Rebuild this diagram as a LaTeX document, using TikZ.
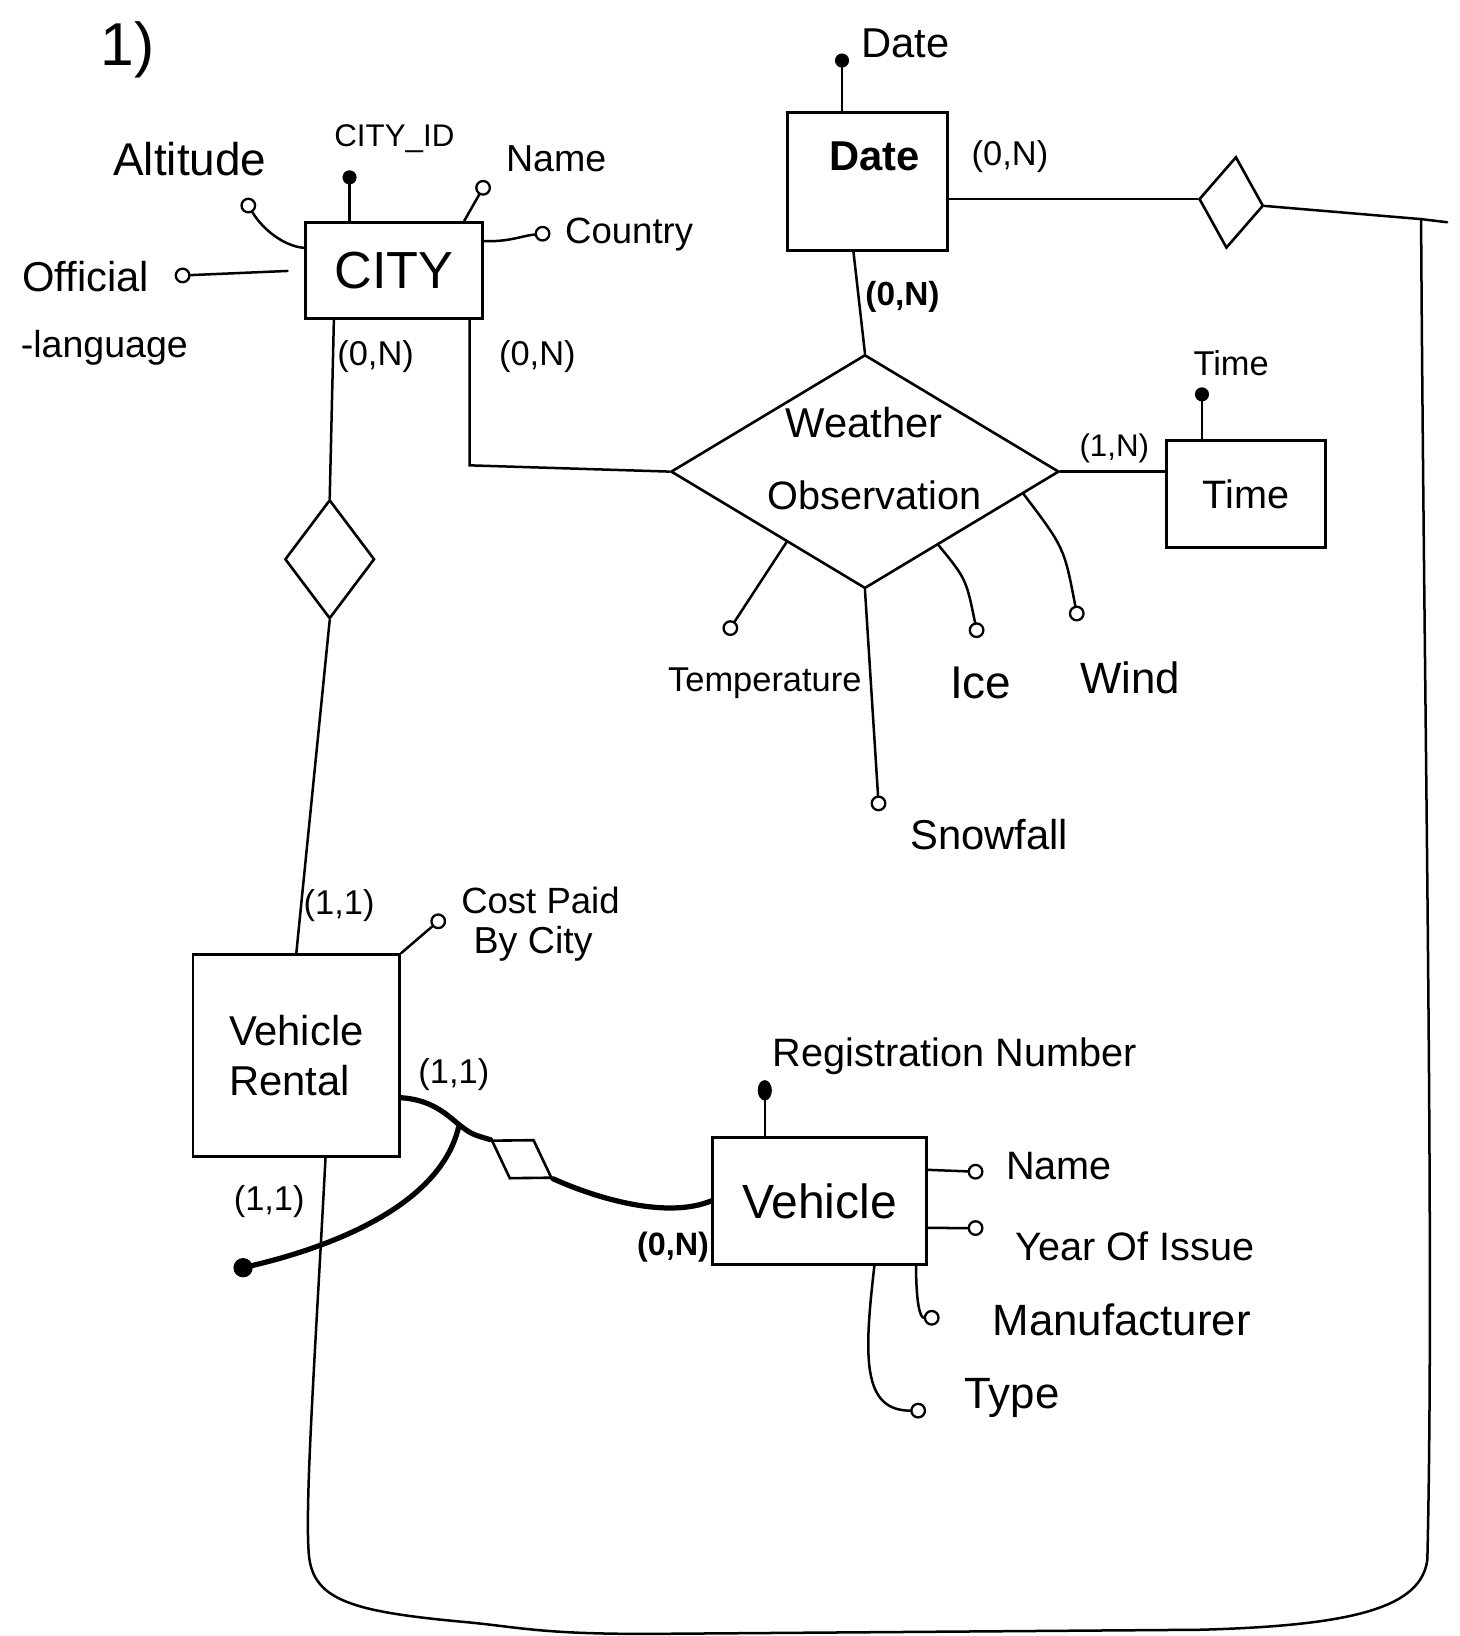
\documentclass[tikz,border=0pt]{standalone}
\usepackage{fontspec}
\setmainfont{Liberation Sans}
\usetikzlibrary{shapes.geometric}
\newcommand\myfs[1]{\fontsize{#1}{#1}\selectfont}
\begin{document}
\begin{tikzpicture}[x=1pt,y=-1pt,
  ent/.style={draw, rectangle, line width=2.8pt, inner sep=0pt},
  rel/.style={draw, diamond, line width=2.5pt, inner sep=0pt},
  ln/.style={line width=2.4pt, line cap=round},
  thk/.style={line width=5pt, line cap=round},
  attr/.style={circle, draw, line width=2.2pt, minimum size=13pt, inner sep=0pt, fill=white},
  keyat/.style={circle, draw, fill, line width=1.5pt, minimum size=12pt, inner sep=0pt},
  lbl/.style={inner sep=0pt, font=\myfs{34}},
  card/.style={inner sep=0pt, font=\myfs{33}}]
\useasboundingbox (0,0) rectangle (1399,1568);
\fill[white] (0,0) rectangle (1399,1568);

% title
\node[inner sep=0pt, font=\myfs{58}] (title) at (122,48) {1)};

% entities
\node[ent, minimum width=169, minimum height=92, font=\myfs{50}] (city) at (377.5,259) {CITY};
\node[ent, minimum width=153, minimum height=132] (date) at (831.5,174) {};
\node[inner sep=0pt, font=\myfs{40}\bfseries] (datet) at (838,150) {Date};
\node[ent, minimum width=152, minimum height=103, font=\myfs{38}] (time) at (1194,473.5) {Time};
\node[ent, minimum width=198, minimum height=193, font=\myfs{40}, align=left] (vr) at (284,1011.5) {Vehicle\\[8pt]Rental};
\node[ent, minimum width=205, minimum height=122, font=\myfs{46}] (veh) at (785.5,1151) {Vehicle};

% relationships
\node[rel, minimum width=372, minimum height=224] (wo) at (829,452) {};
\node[inner sep=0pt, font=\myfs{40}] (wot1) at (828,405) {Weather};
\node[inner sep=0pt, font=\myfs{38}] (wot2) at (838,475) {Observation};
\node[rel, minimum width=62, minimum height=88, rotate=-6] (dr) at (1180,194) {};
\node[rel, minimum width=86, minimum height=114] (dl) at (316,536) {};
\node[rel, minimum width=68, minimum height=44, rotate=-32] (dv) at (500,1111) {};

% attribute end points
\node[keyat] (cid) at (335,170) {};
\node[attr] (alt) at (238,197) {};
\node[attr] (cnm) at (463,180) {};
\node[attr] (cco) at (520,224) {};
\node[attr] (col) at (175,264) {};
\node[keyat] (dda) at (807,58) {};
\node[keyat] (tti) at (1152,378) {};
\node[attr] (ate) at (700,602) {};
\node[attr] (aic) at (936,604) {};
\node[attr] (awi) at (1032,588) {};
\node[attr] (asn) at (842,770) {};
\node[attr] (acp) at (420,883) {};
\node[keyat, ellipse, minimum width=12pt, minimum height=18pt] (reg) at (733,1045) {};
\node[attr] (vnm) at (935,1123) {};
\node[attr] (vyr) at (935,1177) {};
\node[attr] (vma) at (893,1263) {};
\node[attr] (vty) at (880,1352) {};
\node[keyat, minimum size=17pt] (bdot) at (233,1215) {};

\coordinate (cbend) at (450,446);
\coordinate (tj) at (1362,210);
\coordinate (tr) at (1387,213);
\coordinate (bj) at (440,1078);

% attribute labels
\node[lbl, font=\myfs{44}] (lalt) at (182,152) {Altitude};
\node[lbl, font=\myfs{30}] (lcid) at (378,133) {CITY\_ID};
\node[lbl, font=\myfs{36}] (lcnm) at (533,152) {Name};
\node[lbl, font=\myfs{35}] (lcco) at (603,225) {Country};
\node[lbl, font=\myfs{40}] (lcol1) at (82,265) {Official};
\node[lbl, font=\myfs{36}] (lcol2) at (100,333) {-language};
\node[lbl, font=\myfs{40}] (ldda) at (868,42) {Date};
\node[lbl, font=\myfs{33}] (ltti) at (1180,348) {Time};
\node[lbl, font=\myfs{33}] (late) at (733,655) {Temperature};
\node[lbl, font=\myfs{44}] (laic) at (940,655) {Ice};
\node[lbl, font=\myfs{42}] (lawi) at (1083,650) {Wind};
\node[lbl, font=\myfs{40}] (lasn) at (948,800) {Snowfall};
\node[lbl, font=\myfs{35}] (lacp1) at (518,863) {Cost Paid};
\node[lbl, font=\myfs{36}] (lacp2) at (511,905) {By City};
\node[lbl, font=\myfs{38}] (lreg) at (915,1012) {Registration Number};
\node[lbl, font=\myfs{38}] (lvnm) at (1015,1118) {Name};
\node[lbl, font=\myfs{38}] (lvyr) at (1088,1195) {Year Of Issue};
\node[lbl, font=\myfs{42}] (lvma) at (1075,1265) {Manufacturer};
\node[lbl, font=\myfs{42}] (lvty) at (970,1340) {Type};

% cardinalities
\node[card] (k1) at (360,342) {(0,N)};
\node[card] (k2) at (515,342) {(0,N)};
\node[card] (k3) at (968,150) {(0,N)};
\node[card, font=\myfs{32}\bfseries] (k4) at (865,285) {(0,N)};
\node[card, font=\myfs{30}] (k5) at (1068,430) {(1,N)};
\node[card] (k6) at (325,868) {(1,1)};
\node[card] (k7) at (435,1030) {(1,1)};
\node[card] (k8) at (258,1152) {(1,1)};
\node[card, font=\myfs{31}\bfseries] (k9) at (645,1195) {(0,N)};

% attribute connectors
\draw[ln] (cid) -- ([xshift=-42.5]city.north);
\draw[ln] (alt) .. controls (252,220) and (272,236) .. (city.166);
\draw[ln] (cnm) -- ([xshift=67.5]city.north);
\draw[ln] (city.18) .. controls (488,232) and (500,226) .. (cco);
\draw[ln, shorten >=16pt] (col) -- (city.west);
\draw[ln] (dda) -- ([xshift=-24.5]date.north);
\draw[ln] (tti) -- ([xshift=-42]time.north);
\draw[ln] (wo.-138) -- (ate);
\draw[ln] (wo.-45) .. controls (926,555) .. (aic);
\draw[ln] (wo.-8) .. controls (1020,525) .. (awi);
\draw[ln] (wo.south) -- (asn);
\draw[ln] (acp) -- (vr.north east);
\draw[ln] (reg) -- ([xshift=-52.5]veh.north);
\draw[ln] (veh.16) -- (vnm);
\draw[ln] (veh.-14) -- (vyr);
\draw[ln] ([xshift=92.5]veh.south) .. controls (878,1250) and (882,1263) .. (vma);
\draw[ln] ([xshift=52.5]veh.south) .. controls (828,1300) and (826,1352) .. (vty);

% relationship connectors
\draw[ln] ([xshift=-57.5]city.south) -- (dl.north);
\draw[ln] ([xshift=72.5]city.south) -- (cbend) -- (wo.west);
\draw[ln] ([xshift=-13.5]date.south) -- (wo.north);
\draw[ln] (date.east |- dr.west) -- (dr.west);
\draw[ln] (dr.east) -- (tj) -- (tr);
\draw[ln] (wo.east) -- (wo.east -| time.west);
\draw[ln] (vr.north) -- (dl.south);
\draw[thk] (vr.-22) .. controls (412,1054) and (426,1066) .. (bj) .. controls (452,1087) .. (dv.west);
\draw[thk] (dv.east) .. controls (575,1150) and (640,1168) .. (veh.west);
\draw[thk] (bj) .. controls (425,1150) and (330,1192) .. (bdot);
\draw[ln] ([xshift=28]vr.south) .. controls (302,1300) and (292,1440) .. (296,1490)
  .. controls (300,1535) and (340,1545) .. (450,1555)
  .. controls (500,1560) and (520,1566) .. (620,1566) -- (1150,1562)
  .. controls (1300,1558) and (1362,1540) .. (1368,1495)
  .. controls (1375,1200) and (1365,700) .. (tj);
\end{tikzpicture}
\end{document}
